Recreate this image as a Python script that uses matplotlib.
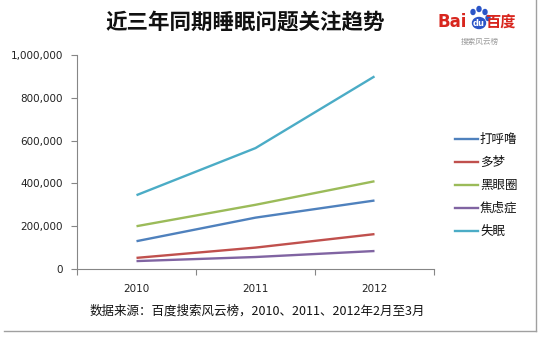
import matplotlib
matplotlib.use("Agg")
import matplotlib.pyplot as plt
from matplotlib.lines import Line2D
from matplotlib.patches import Ellipse
from matplotlib.ticker import FuncFormatter, FixedLocator
import numpy as np

plt.rcParams["font.family"] = ["Noto Sans CJK SC", "DejaVu Sans"]

years = ["2010", "2011", "2012"]
series_names = ["打呼噜", "多梦", "黑眼圈", "焦虑症", "失眠"]
snore = [130000, 240000, 320000]
dreams = [52000, 100000, 163000]
dark_circles = [200000, 300000, 410000]
anxiety = [37000, 56000, 84000]
insomnia = [345000, 565000, 900000]
y_ticks = [0, 200000, 400000, 600000, 800000, 1000000]

colors = ["#4F81BD", "#C0504D", "#9BBB59", "#8064A2", "#4BACC6"]
AXIS_GRAY = "#868686"
LW = 1.7

fig = plt.figure(figsize=(5.46, 3.43), dpi=100)
W, H = 546, 343
ax = fig.add_axes([77 / W, 1 - 269 / H, (434 - 77) / W, (269 - 55) / H])

x = np.arange(len(years))
all_series = [snore, dreams, dark_circles, anxiety, insomnia]
for vals, name, c in zip(all_series, series_names, colors):
    ax.plot(x, vals, color=c, lw=LW, label=name, solid_capstyle="butt")

ax.set_xlim(-0.5, len(years) - 0.5)
ax.set_ylim(0, 1000000)
ax.set_yticks(y_ticks)
ax.yaxis.set_major_formatter(FuncFormatter(lambda v, p: f"{int(v):,}"))
ax.set_xticks(x)
ax.set_xticklabels(years)
ax.xaxis.set_minor_locator(FixedLocator(np.arange(-0.5, len(years), 1.0)))
ax.tick_params(axis="x", which="major", length=0, pad=11, labelsize=7.5, labelcolor="#222222")
ax.tick_params(axis="x", which="minor", length=4, color=AXIS_GRAY, width=0.8, direction="out")
ax.tick_params(axis="y", length=4, color=AXIS_GRAY, width=0.8, labelsize=7.5, pad=6, labelcolor="#222222")
for lab in ax.get_yticklabels() + ax.get_xticklabels():
    lab.set_fontfamily("DejaVu Sans")

for s in ["top", "right"]:
    ax.spines[s].set_visible(False)
for s in ["left", "bottom"]:
    ax.spines[s].set_color(AXIS_GRAY)
    ax.spines[s].set_linewidth(0.8)

# legend drawn manually on the right
for i, (name, c) in enumerate(zip(series_names, colors)):
    yy = 1 - (139 + i * 23) / H
    fig.add_artist(Line2D([455 / W, 478 / W], [yy, yy], color=c, lw=LW, transform=fig.transFigure))
    fig.text(480 / W, yy, name, fontsize=9, va="center", ha="left", color="#111111")

fig.text(245 / W, 1 - 22 / H, "近三年同期睡眠问题关注趋势", fontsize=15.5, fontweight="bold",
         ha="center", va="center", color="#111111")
fig.text(257 / W, 1 - 311 / H, "数据来源：百度搜索风云榜，2010、2011、2012年2月至3月",
         fontsize=9, ha="center", va="center", color="#111111")

# baidu logo
fig.text(452 / W, 1 - 22 / H, "Bai", fontsize=12, fontweight="bold", color="#D8261E",
         ha="center", va="center", family="DejaVu Sans")
for px, py in [(473, 12), (479, 9), (485, 12), (488, 18)]:
    fig.add_artist(Ellipse((px / W, 1 - py / H), 4 / W, 5 / H, color="#2B55C8", transform=fig.transFigure))
fig.add_artist(Ellipse((479 / W, 1 - 23 / H), 13 / W, 11 / H, color="#2B55C8", transform=fig.transFigure))
fig.text(479 / W, 1 - 23 / H, "du", fontsize=6, fontweight="bold", color="white",
         ha="center", va="center", family="DejaVu Sans")
fig.text(500 / W, 1 - 22 / H, "百度", fontsize=11, fontweight="bold", color="#D8261E",
         ha="center", va="center")
fig.text(480 / W, 1 - 42 / H, "搜索风云榜", fontsize=5.5, color="#9A9A9A", ha="center", va="center")

# outer frame lines (right and bottom)
fig.add_artist(Line2D([536 / W, 536 / W], [1, 1 - 331 / H], color="#A0A0A0", lw=1, transform=fig.transFigure))
fig.add_artist(Line2D([4 / W, 536 / W], [1 - 331 / H, 1 - 331 / H], color="#A0A0A0", lw=1, transform=fig.transFigure))

fig.savefig("out.png", dpi=100, facecolor="white")
